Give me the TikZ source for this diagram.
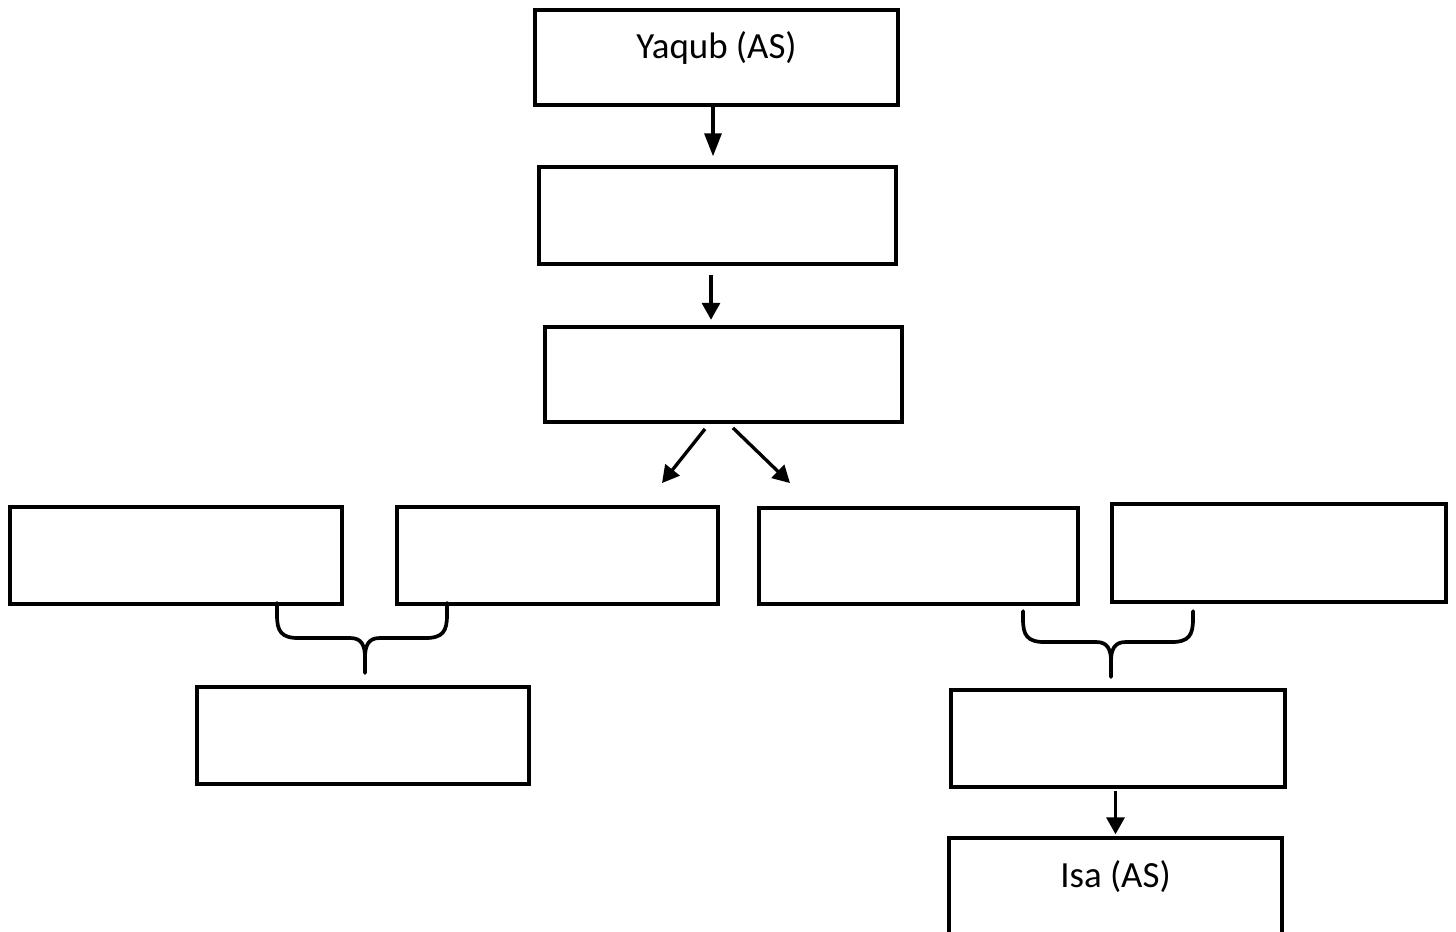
\documentclass[tikz,border=0pt]{standalone}
\usepackage{fontspec}
\setmainfont{Carlito}
\usetikzlibrary{calc,arrows.meta}
\tikzset{>={Triangle[length=0.34cm,width=0.36cm]}}
\tikzset{
  box/.style n args={2}{draw, line width=2.2pt, inner sep=0pt,
    minimum width=#1*0.02cm, minimum height=#2*0.02cm},
  named/.style={label={[anchor=center, yshift=-0.8cm, font=\fontsize{21}{25}\selectfont]north:#1}},
  link/.style={->, line width=1.9pt},
  kin/.style={line width=2.1pt, line cap=round}
}
\newcommand{\kinbrace}[2]{%
  \begin{scope}[shift={#1}]
    \draw[kin] (-88,-#2) -- (-88,-58) .. controls (-88,-42) and (-84,-35) .. (-66,-35) -- (-14,-35)
      .. controls (-4,-35) and (0,-28) .. (0,-16) -- (0,0);%
    \draw[kin] (82,-#2) -- (82,-58) .. controls (82,-42) and (78,-35) .. (60,-35) -- (14,-35)
      .. controls (4,-35) and (0,-28) .. (0,-16);%
  \end{scope}
}

\begin{document}
\begin{tikzpicture}[x=0.02cm, y=-0.02cm]
  \useasboundingbox (0,0) rectangle (1456,931);
  \clip (0,0) rectangle (1456,931);
  % line of descent
  \node[box={363}{95}, named={Yaqub (AS)}] (yaqub) at (716.5,57.5) {};
  \node[box={357}{97}] (son) at (717.5,215.5) {};
  \node[box={357}{95}] (grandson) at (723.5,374.5) {};
  % the four of the next row
  \node[box={332}{97}] (a) at (176,555.5) {};
  \node[box={321}{97}] (b) at (557.5,555.5) {};
  \node[box={319}{96}] (c) at (918.5,556) {};
  \node[box={334}{98}] (d) at (1279,553) {};
  % their children
  \node[box={332}{97}] (e) at (363,735.5) {};
  \node[box={334}{97}] (f) at (1118,738.5) {};
  \node[box={333}{140}, named={Isa (AS)}] (isa) at (1115.5,908) {};
  % arrows
  \draw[link, -{Triangle[length=0.46cm,width=0.34cm]}, shorten >=5pt] ([xshift=-0.07cm]yaqub.south) -- ([xshift=-0.07cm]yaqub.south |- son.north);
  \draw[link, shorten <=5pt, shorten >=3pt] ([xshift=-0.13cm]son.south) -- ([xshift=-0.13cm]son.south |- grandson.north);
  \draw[link] ($(grandson.south)+(-18.5,5)$) -- ($(b.north)+(104.5,-22)$);
  \draw[link] ($(grandson.south)+(9.5,4)$) -- ($(c.north)+(-128.5,-23)$);
  \draw[link, shorten <=1pt, shorten >=1pt] ([xshift=-0.05cm]f.south) -- ([xshift=-0.05cm]f.south |- isa.north);
  % braces
  \kinbrace{($(e.north)+(2,-12)$)}{70}
  \kinbrace{($(f.north)+(-7,-11)$)}{66}
\end{tikzpicture}
\end{document}
